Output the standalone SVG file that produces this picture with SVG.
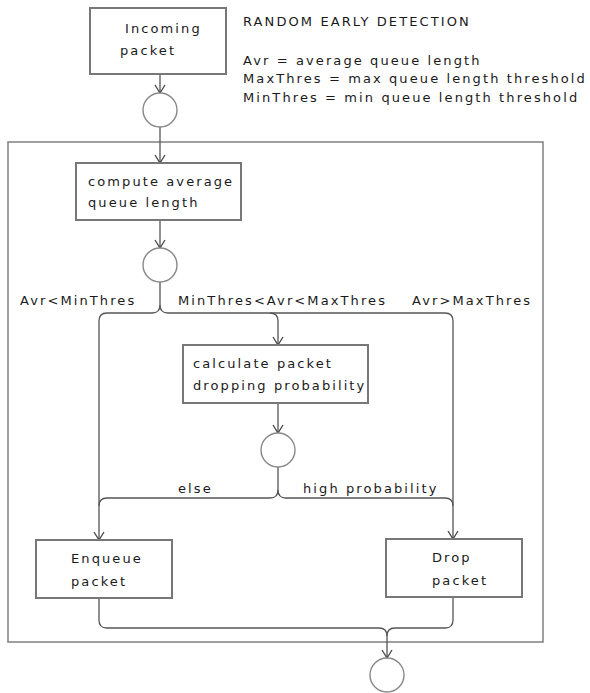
<svg xmlns="http://www.w3.org/2000/svg" width="590" height="693" viewBox="0 0 590 693">
  <defs>
    <marker id="arr" markerUnits="userSpaceOnUse" markerWidth="10" markerHeight="12" viewBox="0 0 10 12" refX="9" refY="6" orient="auto">
      <path d="M1,1 L9,6 L1,11" fill="none" stroke="#444" stroke-width="1.3"/>
    </marker>
  </defs>
  <style>
    text { font-family: "DejaVu Sans", Verdana, sans-serif; font-size: 13px; letter-spacing: 2.1px; fill: #1a1a1a; }
    .box { fill: #fff; stroke: #777; stroke-width: 2; }
    .frame { fill: none; stroke: #888; stroke-width: 1.6; }
    .node { fill: #fff; stroke: #888; stroke-width: 1.4; }
    .flow { fill: none; stroke: #555; stroke-width: 1.3; }
    .arr { marker-end: url(#arr); }
  </style>
  <rect width="590" height="693" fill="#fff"/>

  <g id="container">
    <rect class="frame" x="8" y="142" width="535" height="500"/>
  </g>

  <g id="legend">
    <text x="243" y="26">RANDOM EARLY DETECTION</text>
    <text x="243" y="65">Avr = average queue length</text>
    <text x="243" y="83">MaxThres = max queue length threshold</text>
    <text x="243" y="102">MinThres = min queue length threshold</text>
  </g>

  <g id="connectors">
    <path class="flow arr" d="M160,74 V93"/>
    <path class="flow arr" d="M160,127 V163"/>
    <path class="flow arr" d="M160,220 V248"/>
    <path class="flow arr" d="M160,282 V305 Q160,313 152,313 H107 Q99,313 99,321 V540"/>
    <path class="flow arr" d="M160,305 Q160,313 168,313 H270 Q278,313 278,321 V345"/>
    <path class="flow arr" d="M270,313 H445 Q453,313 453,321 V539"/>
    <path class="flow arr" d="M278,403 V433"/>
    <path class="flow" d="M278,467 V490 Q278,498 270,498 H107 Q99,498 99,506"/>
    <path class="flow" d="M278,490 Q278,498 286,498 H445 Q453,498 453,506"/>
    <path class="flow arr" d="M99,598 V620 Q99,628 107,628 H379 Q387,628 387,636 V658"/>
    <path class="flow" d="M453,597 V620 Q453,628 445,628 H395 Q387,628 387,636"/>
    <text x="20" y="305">Avr&lt;MinThres</text>
    <text x="178" y="305">MinThres&lt;Avr&lt;MaxThres</text>
    <text x="412" y="305">Avr&gt;MaxThres</text>
    <text x="178" y="493">else</text>
    <text x="303" y="493">high probability</text>
  </g>

  <g id="incoming">
    <rect class="box" x="90" y="8" width="136" height="66"/>
    <text x="125" y="33">Incoming</text>
    <text x="120" y="55">packet</text>
  </g>
  <g id="fork1">
    <circle class="node" cx="160" cy="110" r="17"/>
  </g>
  <g id="compute">
    <rect class="box" x="76" y="163" width="165" height="57"/>
    <text x="88" y="186">compute average</text>
    <text x="88" y="207">queue length</text>
  </g>
  <g id="decision1">
    <circle class="node" cx="160" cy="265" r="17"/>
  </g>
  <g id="calculate">
    <rect class="box" x="183" y="345" width="185" height="58"/>
    <text x="193" y="368">calculate packet</text>
    <text x="193" y="390">dropping probability</text>
  </g>
  <g id="decision2">
    <circle class="node" cx="278" cy="450" r="17"/>
  </g>
  <g id="enqueue">
    <rect class="box" x="36" y="540" width="136" height="58"/>
    <text x="71" y="563">Enqueue</text>
    <text x="71" y="586">packet</text>
  </g>
  <g id="drop">
    <rect class="box" x="386" y="539" width="136" height="58"/>
    <text x="432" y="562">Drop</text>
    <text x="432" y="585">packet</text>
  </g>
  <g id="final">
    <circle class="node" cx="387" cy="675" r="17"/>
  </g>
</svg>
